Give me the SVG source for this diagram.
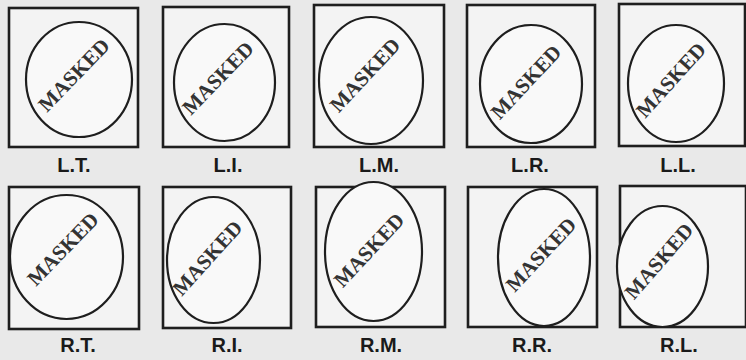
<svg xmlns="http://www.w3.org/2000/svg" width="746" height="360" viewBox="0 0 746 360">
<style>
.box{fill:#f3f3f3;stroke:#1e1e1e;stroke-width:2.6}
.ell{fill:#f9f9f9;stroke:#1e1e1e;stroke-width:2.2}
.m{font-family:"Liberation Serif",serif;font-weight:bold;font-size:21px;fill:#333;text-anchor:middle;dominant-baseline:central}
.lbl{font-family:"Liberation Sans",Arial,sans-serif;font-weight:bold;font-size:20px;fill:#1a1a1a;text-anchor:middle}
</style>
<rect width="746" height="360" fill="#e9e9e9"/>
<g id="LT"><rect class="box" x="9" y="8" width="129" height="139"/><ellipse class="ell" cx="79" cy="79.5" rx="53" ry="57.5"/><text class="m" transform="translate(74,75) rotate(-46)">MASKED</text><text class="lbl" x="74" y="172">L.T.</text></g>
<g id="LI"><rect class="box" x="163" y="7" width="126" height="140"/><ellipse class="ell" cx="224.5" cy="82.5" rx="50.5" ry="58.5"/><text class="m" transform="translate(218,78) rotate(-46)">MASKED</text><text class="lbl" x="228" y="172">L.I.</text></g>
<g id="LM"><rect class="box" x="314" y="5" width="130" height="142"/><ellipse class="ell" cx="371" cy="80.5" rx="52" ry="63.5"/><text class="m" transform="translate(365,75) rotate(-47)">MASKED</text><text class="lbl" x="379" y="172">L.M.</text></g>
<g id="LR"><rect class="box" x="467" y="5" width="128" height="142"/><ellipse class="ell" cx="531" cy="84" rx="51" ry="59"/><text class="m" transform="translate(526,82) rotate(-47)">MASKED</text><text class="lbl" x="530" y="172">L.R.</text></g>
<g id="LL"><rect class="box" x="619" y="4" width="126" height="142"/><ellipse class="ell" cx="676" cy="83.5" rx="48" ry="58.5"/><text class="m" transform="translate(671,80) rotate(-48)">MASKED</text><text class="lbl" x="678" y="172">L.L.</text></g>
<g id="RT"><rect class="box" x="9" y="187" width="130" height="142"/><ellipse class="ell" cx="66.5" cy="257" rx="56.5" ry="62"/><text class="m" transform="translate(63,249) rotate(-46)">MASKED</text><text class="lbl" x="78" y="352">R.T.</text></g>
<g id="RI"><rect class="box" x="163" y="187" width="128" height="141"/><ellipse class="ell" cx="213.5" cy="260" rx="46.5" ry="63"/><text class="m" transform="translate(207.5,258) rotate(-48)">MASKED</text><text class="lbl" x="227" y="352">R.I.</text></g>
<g id="RM"><rect class="box" x="316" y="187" width="129" height="140"/><ellipse class="ell" cx="373.5" cy="251.5" rx="48.5" ry="69.5"/><text class="m" transform="translate(369,250) rotate(-47)">MASKED</text><text class="lbl" x="381" y="352">R.M.</text></g>
<g id="RR"><rect class="box" x="468" y="187" width="129" height="140"/><ellipse class="ell" cx="544" cy="257.5" rx="46" ry="68.5"/><text class="m" transform="translate(541,254.5) rotate(-47)">MASKED</text><text class="lbl" x="532" y="352">R.R.</text></g>
<g id="RL"><rect class="box" x="620" y="186" width="126" height="141"/><ellipse class="ell" cx="662.5" cy="266.5" rx="45.5" ry="60.5"/><text class="m" transform="translate(659,261) rotate(-49)">MASKED</text><text class="lbl" x="679" y="352">R.L.</text></g>
<g id="connectors"></g>
</svg>
